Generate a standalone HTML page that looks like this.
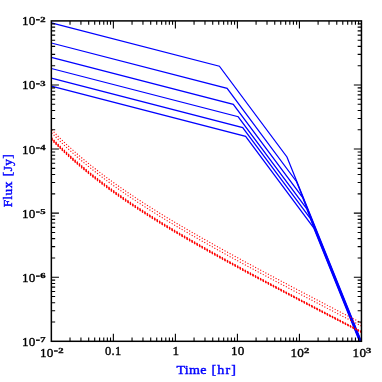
<!DOCTYPE html>
<html><head><meta charset="utf-8"><title>Flux vs Time</title>
<style>
html,body{margin:0;padding:0;background:#fff;}
body{width:382px;height:382px;overflow:hidden;font-family:"Liberation Serif",serif;}
svg{display:block;will-change:transform;transform:translateZ(0);}
text{font-family:"Liberation Serif",serif;}
.tl{font-size:13.2px;fill:#000;stroke:#000;stroke-width:0.38px;letter-spacing:0.3px;}
.sup{font-size:7.6px;font-weight:bold;fill:#000;stroke:#000;stroke-width:0.3px;}
.ax{font-size:13.3px;fill:#0000ff;stroke:#0000ff;stroke-width:0.42px;letter-spacing:0.4px;word-spacing:0.6px;}
</style></head><body>
<svg width="382" height="382" viewBox="0 0 382 382">
<rect x="0" y="0" width="382" height="382" fill="#fff"/>
<g fill="none" stroke="#0000ff" stroke-width="1.25" stroke-linejoin="miter">
<polyline points="51.35,22.8 219.4,66.21 286.96,156.95 361.3,341.3"/>
<polyline points="51.35,43 227.1,88.4 296.57,181.71 360.93,341.3"/>
<polyline points="51.35,57.4 233.3,104.4 302.52,197.37 360.56,341.3"/>
<polyline points="51.35,68.5 238.2,116.76 306.8,208.9 360.19,341.3"/>
<polyline points="51.35,78.2 242.7,127.63 310.23,218.33 359.82,341.3"/>
<polyline points="51.35,86.2 245.6,136.38 313.69,227.84 359.45,341.3"/>
</g>
<g fill="none" stroke="#ff0000" stroke-width="1.1" stroke-dasharray="1.1 1.8" stroke-dashoffset="-0.45">
<polyline points="51.35,129.51 54.83,133.07 58.32,136.54 61.8,139.93 65.29,143.24 68.77,146.47 72.26,149.62 75.74,152.71 79.22,155.73 82.71,158.69 86.19,161.59 89.68,164.43 93.16,167.22 96.65,169.96 100.13,172.65 103.61,175.29 107.1,177.89 110.58,180.45 114.07,182.97 117.55,185.45 121.04,187.89 124.52,190.31 128,192.69 131.49,195.04 134.97,197.36 138.46,199.66 141.94,201.92 145.43,204.17 148.91,206.39 152.39,208.59 155.88,210.76 159.36,212.92 162.85,215.06 166.33,217.18 169.82,219.28 173.3,221.37 176.78,223.44 180.27,225.5 183.75,227.54 187.24,229.57 190.72,231.59 194.21,233.6 197.69,235.59 201.17,237.58 204.66,239.55 208.14,241.51 211.63,243.47 215.11,245.41 218.59,247.35 222.08,249.28 225.56,251.2 229.05,253.12 232.53,255.03 236.02,256.93 239.5,258.82 242.98,260.72 246.47,262.6 249.95,264.48 253.44,266.35 256.92,268.22 260.41,270.09 263.89,271.95 267.37,273.81 270.86,275.66 274.34,277.51 277.83,279.36 281.31,281.2 284.8,283.04 288.28,284.88 291.76,286.72 295.25,288.55 298.73,290.38 302.22,292.2 305.7,294.03 309.19,295.85 312.67,297.67 316.15,299.49 319.64,301.31 323.12,303.12 326.61,304.94 330.09,306.75 333.58,308.56 337.06,310.37 340.54,312.18 344.03,313.98 347.51,315.79 351,317.59 354.48,319.4 357.97,321.2 361.45,323"/>
<polyline points="51.35,132.51 54.83,136.07 58.32,139.54 61.8,142.93 65.29,146.24 68.77,149.47 72.26,152.62 75.74,155.71 79.22,158.73 82.71,161.69 86.19,164.59 89.68,167.43 93.16,170.22 96.65,172.96 100.13,175.65 103.61,178.29 107.1,180.89 110.58,183.45 114.07,185.97 117.55,188.45 121.04,190.89 124.52,193.31 128,195.69 131.49,198.04 134.97,200.36 138.46,202.66 141.94,204.92 145.43,207.17 148.91,209.39 152.39,211.59 155.88,213.76 159.36,215.92 162.85,218.06 166.33,220.18 169.82,222.28 173.3,224.37 176.78,226.44 180.27,228.5 183.75,230.54 187.24,232.57 190.72,234.59 194.21,236.6 197.69,238.59 201.17,240.58 204.66,242.55 208.14,244.51 211.63,246.47 215.11,248.41 218.59,250.35 222.08,252.28 225.56,254.2 229.05,256.12 232.53,258.03 236.02,259.93 239.5,261.82 242.98,263.72 246.47,265.6 249.95,267.48 253.44,269.35 256.92,271.22 260.41,273.09 263.89,274.95 267.37,276.81 270.86,278.66 274.34,280.51 277.83,282.36 281.31,284.2 284.8,286.04 288.28,287.88 291.76,289.72 295.25,291.55 298.73,293.38 302.22,295.2 305.7,297.03 309.19,298.85 312.67,300.67 316.15,302.49 319.64,304.31 323.12,306.12 326.61,307.94 330.09,309.75 333.58,311.56 337.06,313.37 340.54,315.18 344.03,316.98 347.51,318.79 351,320.59 354.48,322.4 357.97,324.2 361.45,326"/>
</g><g fill="none" stroke="#ff0000" stroke-width="1.25" stroke-dasharray="1.3 1.6" stroke-dashoffset="-0.3">
<polyline points="51.35,137.53 54.83,141.1 58.32,144.58 61.8,147.97 65.29,151.28 68.77,154.52 72.26,157.68 75.74,160.77 79.22,163.8 82.71,166.76 86.19,169.66 89.68,172.51 93.16,175.31 96.65,178.05 100.13,180.74 103.61,183.39 107.1,186 110.58,188.56 114.07,191.09 117.55,193.57 121.04,196.03 124.52,198.45 128,200.83 131.49,203.19 134.97,205.52 138.46,207.82 141.94,210.09 145.43,212.34 148.91,214.57 152.39,216.77 155.88,218.95 159.36,221.12 162.85,223.26 166.33,225.39 169.82,227.5 173.3,229.59 176.78,231.67 180.27,233.73 183.75,235.78 187.24,237.81 190.72,239.84 194.21,241.85 197.69,243.85 201.17,245.84 204.66,247.82 208.14,249.79 211.63,251.75 215.11,253.7 218.59,255.64 222.08,257.58 225.56,259.5 229.05,261.42 232.53,263.34 236.02,265.25 239.5,267.15 242.98,269.04 246.47,270.93 249.95,272.82 253.44,274.7 256.92,276.58 260.41,278.45 263.89,280.31 267.37,282.18 270.86,284.04 274.34,285.89 277.83,287.75 281.31,289.59 284.8,291.44 288.28,293.28 291.76,295.12 295.25,296.96 298.73,298.8 302.22,300.63 305.7,302.46 309.19,304.29 312.67,306.11 316.15,307.94 319.64,309.76 323.12,311.58 326.61,313.4 330.09,315.22 333.58,317.04 337.06,318.85 340.54,320.66 344.03,322.48 347.51,324.29 351,326.1 354.48,327.9 357.97,329.71 361.45,331.52"/>
<polyline points="51.35,138.2 54.83,141.76 58.32,145.24 61.8,148.63 65.29,151.94 68.77,155.17 72.26,158.33 75.74,161.41 79.22,164.44 82.71,167.4 86.19,170.3 89.68,173.14 93.16,175.93 96.65,178.67 100.13,181.36 103.61,184.01 107.1,186.61 110.58,189.17 114.07,191.69 117.55,194.17 121.04,196.62 124.52,199.03 128,201.42 131.49,203.77 134.97,206.09 138.46,208.39 141.94,210.66 145.43,212.91 148.91,215.13 152.39,217.33 155.88,219.51 159.36,221.67 162.85,223.81 166.33,225.93 169.82,228.04 173.3,230.13 176.78,232.2 180.27,234.26 183.75,236.3 187.24,238.33 190.72,240.35 194.21,242.36 197.69,244.36 201.17,246.34 204.66,248.32 208.14,250.28 211.63,252.24 215.11,254.19 218.59,256.13 222.08,258.06 225.56,259.98 229.05,261.9 232.53,263.81 236.02,265.71 239.5,267.61 242.98,269.5 246.47,271.39 249.95,273.27 253.44,275.15 256.92,277.02 260.41,278.89 263.89,280.75 267.37,282.61 270.86,284.47 274.34,286.32 277.83,288.17 281.31,290.01 284.8,291.85 288.28,293.69 291.76,295.53 295.25,297.36 298.73,299.2 302.22,301.02 305.7,302.85 309.19,304.68 312.67,306.5 316.15,308.32 319.64,310.14 323.12,311.95 326.61,313.77 330.09,315.58 333.58,317.4 337.06,319.21 340.54,321.02 344.03,322.82 347.51,324.63 351,326.44 354.48,328.24 357.97,330.05 361.45,331.85"/>
<polyline points="51.35,138.86 54.83,142.42 58.32,145.89 61.8,149.28 65.29,152.58 68.77,155.81 72.26,158.96 75.74,162.05 79.22,165.07 82.71,168.02 86.19,170.92 89.68,173.76 93.16,176.55 96.65,179.28 100.13,181.97 103.61,184.61 107.1,187.21 110.58,189.77 114.07,192.28 117.55,194.76 121.04,197.21 124.52,199.62 128,202 131.49,204.35 134.97,206.67 138.46,208.96 141.94,211.23 145.43,213.47 148.91,215.69 152.39,217.89 155.88,220.06 159.36,222.22 162.85,224.35 166.33,226.47 169.82,228.57 173.3,230.66 176.78,232.73 180.27,234.78 183.75,236.83 187.24,238.85 190.72,240.87 194.21,242.87 197.69,244.87 201.17,246.85 204.66,248.82 208.14,250.78 211.63,252.73 215.11,254.68 218.59,256.61 222.08,258.54 225.56,260.46 229.05,262.38 232.53,264.28 236.02,266.18 239.5,268.08 242.98,269.97 246.47,271.85 249.95,273.73 253.44,275.6 256.92,277.47 260.41,279.33 263.89,281.19 267.37,283.05 270.86,284.9 274.34,286.75 277.83,288.59 281.31,290.43 284.8,292.27 288.28,294.11 291.76,295.94 295.25,297.77 298.73,299.6 302.22,301.43 305.7,303.25 309.19,305.07 312.67,306.89 316.15,308.71 319.64,310.52 323.12,312.33 326.61,314.15 330.09,315.96 333.58,317.76 337.06,319.57 340.54,321.38 344.03,323.18 347.51,324.99 351,326.79 354.48,328.59 357.97,330.39 361.45,332.19"/>
<polyline points="51.35,139.53 54.83,143.09 58.32,146.55 61.8,149.94 65.29,153.24 68.77,156.46 72.26,159.61 75.74,162.69 79.22,165.71 82.71,168.66 86.19,171.55 89.68,174.39 93.16,177.17 96.65,179.9 100.13,182.59 103.61,185.22 107.1,187.82 110.58,190.37 114.07,192.88 117.55,195.36 121.04,197.8 124.52,200.21 128,202.58 131.49,204.93 134.97,207.25 138.46,209.53 141.94,211.8 145.43,214.04 148.91,216.25 152.39,218.44 155.88,220.62 159.36,222.77 162.85,224.9 166.33,227.02 169.82,229.11 173.3,231.2 176.78,233.26 180.27,235.31 183.75,237.35 187.24,239.38 190.72,241.39 194.21,243.39 197.69,245.38 201.17,247.35 204.66,249.32 208.14,251.28 211.63,253.23 215.11,255.17 218.59,257.1 222.08,259.03 225.56,260.94 229.05,262.85 232.53,264.75 236.02,266.65 239.5,268.54 242.98,270.43 246.47,272.31 249.95,274.18 253.44,276.05 256.92,277.91 260.41,279.77 263.89,281.63 267.37,283.48 270.86,285.33 274.34,287.17 277.83,289.01 281.31,290.85 284.8,292.69 288.28,294.52 291.76,296.35 295.25,298.17 298.73,300 302.22,301.82 305.7,303.64 309.19,305.46 312.67,307.27 316.15,309.08 319.64,310.9 323.12,312.71 326.61,314.51 330.09,316.32 333.58,318.12 337.06,319.93 340.54,321.73 344.03,323.53 347.51,325.33 351,327.13 354.48,328.93 357.97,330.72 361.45,332.52"/>
</g>
<g stroke="#000" fill="none">
<rect x="51.35" y="20.9" width="310.1" height="320.4" stroke-width="1.5"/>
<path d="M70.02 341.3v-3.8M70.02 20.9v3.8M51.35 322.01h3.8M361.45 322.01h-3.8M80.94 341.3v-3.8M80.94 20.9v3.8M51.35 310.73h3.8M361.45 310.73h-3.8M88.69 341.3v-3.8M88.69 20.9v3.8M51.35 302.72h3.8M361.45 302.72h-3.8M94.7 341.3v-3.8M94.7 20.9v3.8M51.35 296.51h3.8M361.45 296.51h-3.8M99.61 341.3v-3.8M99.61 20.9v3.8M51.35 291.44h3.8M361.45 291.44h-3.8M103.76 341.3v-3.8M103.76 20.9v3.8M51.35 287.15h3.8M361.45 287.15h-3.8M107.36 341.3v-3.8M107.36 20.9v3.8M51.35 283.43h3.8M361.45 283.43h-3.8M110.53 341.3v-3.8M110.53 20.9v3.8M51.35 280.15h3.8M361.45 280.15h-3.8M113.37 341.3v-7.6M113.37 20.9v7.6M51.35 277.22h7.6M361.45 277.22h-7.6M132.04 341.3v-3.8M132.04 20.9v3.8M51.35 257.93h3.8M361.45 257.93h-3.8M142.96 341.3v-3.8M142.96 20.9v3.8M51.35 246.65h3.8M361.45 246.65h-3.8M150.71 341.3v-3.8M150.71 20.9v3.8M51.35 238.64h3.8M361.45 238.64h-3.8M156.72 341.3v-3.8M156.72 20.9v3.8M51.35 232.43h3.8M361.45 232.43h-3.8M161.63 341.3v-3.8M161.63 20.9v3.8M51.35 227.36h3.8M361.45 227.36h-3.8M165.78 341.3v-3.8M165.78 20.9v3.8M51.35 223.07h3.8M361.45 223.07h-3.8M169.38 341.3v-3.8M169.38 20.9v3.8M51.35 219.35h3.8M361.45 219.35h-3.8M172.55 341.3v-3.8M172.55 20.9v3.8M51.35 216.07h3.8M361.45 216.07h-3.8M175.39 341.3v-7.6M175.39 20.9v7.6M51.35 213.14h7.6M361.45 213.14h-7.6M194.06 341.3v-3.8M194.06 20.9v3.8M51.35 193.85h3.8M361.45 193.85h-3.8M204.98 341.3v-3.8M204.98 20.9v3.8M51.35 182.57h3.8M361.45 182.57h-3.8M212.73 341.3v-3.8M212.73 20.9v3.8M51.35 174.56h3.8M361.45 174.56h-3.8M218.74 341.3v-3.8M218.74 20.9v3.8M51.35 168.35h3.8M361.45 168.35h-3.8M223.65 341.3v-3.8M223.65 20.9v3.8M51.35 163.28h3.8M361.45 163.28h-3.8M227.8 341.3v-3.8M227.8 20.9v3.8M51.35 158.99h3.8M361.45 158.99h-3.8M231.4 341.3v-3.8M231.4 20.9v3.8M51.35 155.27h3.8M361.45 155.27h-3.8M234.57 341.3v-3.8M234.57 20.9v3.8M51.35 151.99h3.8M361.45 151.99h-3.8M237.41 341.3v-7.6M237.41 20.9v7.6M51.35 149.06h7.6M361.45 149.06h-7.6M256.08 341.3v-3.8M256.08 20.9v3.8M51.35 129.77h3.8M361.45 129.77h-3.8M267 341.3v-3.8M267 20.9v3.8M51.35 118.49h3.8M361.45 118.49h-3.8M274.75 341.3v-3.8M274.75 20.9v3.8M51.35 110.48h3.8M361.45 110.48h-3.8M280.76 341.3v-3.8M280.76 20.9v3.8M51.35 104.27h3.8M361.45 104.27h-3.8M285.67 341.3v-3.8M285.67 20.9v3.8M51.35 99.2h3.8M361.45 99.2h-3.8M289.82 341.3v-3.8M289.82 20.9v3.8M51.35 94.91h3.8M361.45 94.91h-3.8M293.42 341.3v-3.8M293.42 20.9v3.8M51.35 91.19h3.8M361.45 91.19h-3.8M296.59 341.3v-3.8M296.59 20.9v3.8M51.35 87.91h3.8M361.45 87.91h-3.8M299.43 341.3v-7.6M299.43 20.9v7.6M51.35 84.98h7.6M361.45 84.98h-7.6M318.1 341.3v-3.8M318.1 20.9v3.8M51.35 65.69h3.8M361.45 65.69h-3.8M329.02 341.3v-3.8M329.02 20.9v3.8M51.35 54.41h3.8M361.45 54.41h-3.8M336.77 341.3v-3.8M336.77 20.9v3.8M51.35 46.4h3.8M361.45 46.4h-3.8M342.78 341.3v-3.8M342.78 20.9v3.8M51.35 40.19h3.8M361.45 40.19h-3.8M347.69 341.3v-3.8M347.69 20.9v3.8M51.35 35.12h3.8M361.45 35.12h-3.8M351.84 341.3v-3.8M351.84 20.9v3.8M51.35 30.83h3.8M361.45 30.83h-3.8M355.44 341.3v-3.8M355.44 20.9v3.8M51.35 27.11h3.8M361.45 27.11h-3.8M358.61 341.3v-3.8M358.61 20.9v3.8M51.35 23.83h3.8M361.45 23.83h-3.8" stroke-width="1.1"/>
</g>
<g transform="translate(21.9,25.4) scale(1.0,1)"><text class="tl">10</text></g><path d="M36 19.8h3.8" stroke="#000" stroke-width="1.4" fill="none"/><g transform="translate(40.3,22) scale(1.4,1) rotate(0.03)"><text class="sup">2</text></g>
<g transform="translate(21.9,89.48) scale(1.0,1)"><text class="tl">10</text></g><path d="M36 83.88h3.8" stroke="#000" stroke-width="1.4" fill="none"/><g transform="translate(40.3,86.08) scale(1.4,1) rotate(0.03)"><text class="sup">3</text></g>
<g transform="translate(21.9,153.56) scale(1.0,1)"><text class="tl">10</text></g><path d="M36 147.96h3.8" stroke="#000" stroke-width="1.4" fill="none"/><g transform="translate(40.3,150.16) scale(1.4,1) rotate(0.03)"><text class="sup">4</text></g>
<g transform="translate(21.9,217.64) scale(1.0,1)"><text class="tl">10</text></g><path d="M36 212.04h3.8" stroke="#000" stroke-width="1.4" fill="none"/><g transform="translate(40.3,214.24) scale(1.4,1) rotate(0.03)"><text class="sup">5</text></g>
<g transform="translate(21.9,281.72) scale(1.0,1)"><text class="tl">10</text></g><path d="M36 276.12h3.8" stroke="#000" stroke-width="1.4" fill="none"/><g transform="translate(40.3,278.32) scale(1.4,1) rotate(0.03)"><text class="sup">6</text></g>
<g transform="translate(21.9,345.8) scale(1.0,1)"><text class="tl">10</text></g><path d="M36 340.2h3.8" stroke="#000" stroke-width="1.4" fill="none"/><g transform="translate(40.3,342.4) scale(1.4,1) rotate(0.03)"><text class="sup">7</text></g>
<g transform="translate(39.9,356.6) scale(1.0,1)"><text class="tl">10</text></g><path d="M54 351h3.8" stroke="#000" stroke-width="1.4" fill="none"/><g transform="translate(58.3,353.2) scale(1.4,1) rotate(0.03)"><text class="sup">2</text></g>
<g transform="translate(104.97,355.45) scale(0.95,1)"><text class="tl">0.1</text></g>
<g transform="translate(172.39,355.45) scale(1.0,1)"><text class="tl">1</text></g>
<g transform="translate(230.96,355.45) scale(1.0,1)"><text class="tl">10</text></g>
<g transform="translate(290.48,356.6) scale(1.0,1)"><text class="tl">10</text></g><g transform="translate(303.98,353.2) scale(1.4,1) rotate(0.03)"><text class="sup">2</text></g>
<g transform="translate(352.5,356.6) scale(1.0,1)"><text class="tl">10</text></g><g transform="translate(366,353.2) scale(1.4,1) rotate(0.03)"><text class="sup">3</text></g>
<g transform="translate(206.8,373.9) scale(1.06,1)"><text class="ax" text-anchor="middle"><tspan letter-spacing="0.3">Time </tspan><tspan letter-spacing="1.1">[hr]</tspan></text></g>
<g transform="translate(12,207.3) rotate(-90) scale(1.0,1)"><text class="ax">Flux</text></g>
<g transform="translate(12,176.2) rotate(-90) scale(1.0,1)"><text class="ax" letter-spacing="0.1">[Jy]</text></g>
</svg></body></html>
